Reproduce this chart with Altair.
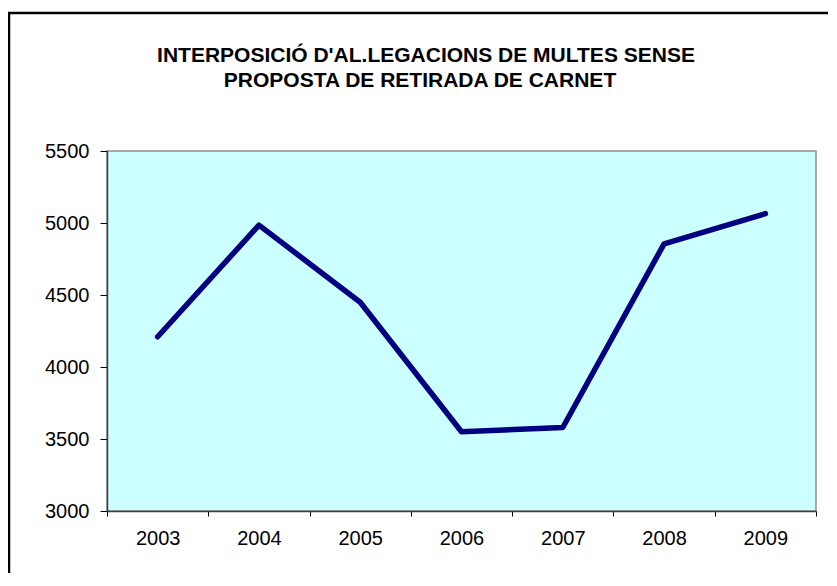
import altair as alt
import pandas as pd

years = ["2003", "2004", "2005", "2006", "2007", "2008", "2009"]
values = [4210, 4985, 4450, 3550, 3580, 4855, 5065]
y_ticks = [3000, 3500, 4000, 4500, 5000, 5500]
title_lines = ["INTERPOSICIÓ D'AL.LEGACIONS DE MULTES SENSE", "PROPOSTA DE RETIRADA DE CARNET"]

df = pd.DataFrame({"year": years, "value": values})
FONT = "Liberation Sans"

line = alt.Chart(df).mark_line(color="#000080", strokeWidth=5.5, strokeCap="round", strokeJoin="round").encode(
    x=alt.X("year:O", bandPosition=0.5,
            scale=alt.Scale(type="band", paddingInner=0, paddingOuter=0),
            axis=alt.Axis(title=None, labelAngle=0, tickBand="extent", tickSize=5,
                          labelPadding=12, labelFontSize=20, labelFont=FONT, labelColor="black",
                          tickColor="black", domainColor="#404040", domainWidth=1.5, grid=False)),
    y=alt.Y("value:Q", scale=alt.Scale(domain=[3000, 5500], nice=False, zero=False),
            axis=alt.Axis(title=None, values=y_ticks, format="d", tickSize=7, labelPadding=11,
                          labelFontSize=20, labelFont=FONT, labelColor="black",
                          tickColor="black", domainColor="#404040", domainWidth=1.5, grid=False)),
)

one = alt.Data(values=[{"k": 1}])

border = alt.Chart(one).mark_rect(filled=False, stroke="black", strokeWidth=2.5).encode(
    x=alt.value(-98), x2=alt.value(760), y=alt.value(-138), y2=alt.value(460)
)

t1 = alt.Chart(one).mark_text(text=title_lines[0], font=FONT, fontSize=21, fontWeight="bold",
                              align="center", baseline="alphabetic", color="black").encode(
    x=alt.value(319), y=alt.value(-89))
t2 = alt.Chart(one).mark_text(text=title_lines[1], font=FONT, fontSize=21, fontWeight="bold",
                              align="center", baseline="alphabetic", color="black").encode(
    x=alt.value(313), y=alt.value(-64))

chart = alt.layer(border, line, t1, t2).properties(
    width=709, height=360,
    autosize=alt.AutoSizeParams(type="none"),
    padding={"left": 99, "top": 143, "right": 12, "bottom": 62},
    background="white",
).configure_view(fill="#CCFFFF", stroke="#909090", strokeWidth=1.5)

chart.save("out.html", embed_options={"renderer": "svg", "actions": False})
